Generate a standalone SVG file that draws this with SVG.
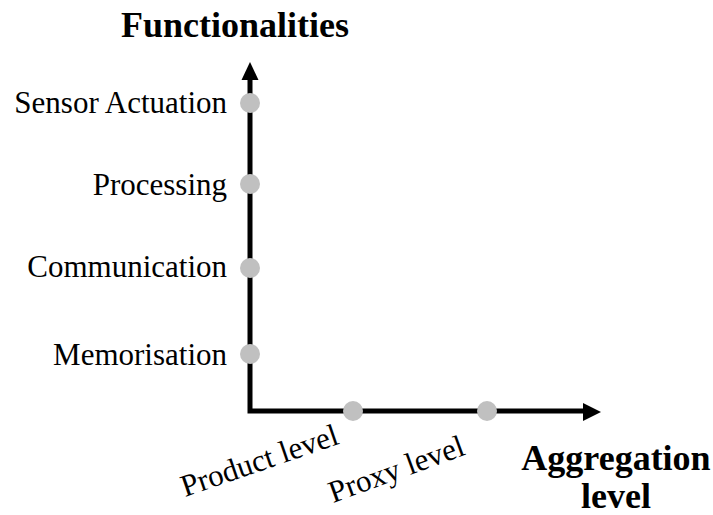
<svg xmlns="http://www.w3.org/2000/svg" width="713" height="515" viewBox="0 0 713 515">
  <style>
    .lbl { font-family: "Liberation Serif", "Times New Roman", serif; font-size: 31px; fill: #000; }
    .ttl { font-family: "Liberation Serif", "Times New Roman", serif; font-size: 36px; font-weight: bold; fill: #000; }
    .axis { stroke: #000; stroke-width: 5; fill: none; }
    .dot { fill: #c0c0c0; }
  </style>
  <rect width="713" height="515" fill="#fff"/>

  <!-- axes with arrowheads -->
  <g id="axes">
    <path class="axis" d="M250,79 V411 H584"/>
    <polygon points="250,62 241.5,80 258.5,80" fill="#000"/>
    <polygon points="601,412 583,403 583,421" fill="#000"/>
  </g>

  <g id="title-functionalities">
    <text class="ttl" x="235" y="37" text-anchor="middle">Functionalities</text>
  </g>
  <g id="title-aggregation">
    <text class="ttl" x="616" y="470" text-anchor="middle">Aggregation</text>
    <text class="ttl" x="616" y="508" text-anchor="middle">level</text>
  </g>

  <!-- functionality ticks on the vertical axis -->
  <g id="sensor-actuation">
    <circle class="dot" cx="250" cy="103" r="10"/>
    <text class="lbl" x="227" y="113" text-anchor="end">Sensor Actuation</text>
  </g>
  <g id="processing">
    <circle class="dot" cx="250" cy="184" r="10"/>
    <text class="lbl" x="227" y="195" text-anchor="end">Processing</text>
  </g>
  <g id="communication">
    <circle class="dot" cx="250" cy="268" r="10"/>
    <text class="lbl" x="227" y="277" text-anchor="end">Communication</text>
  </g>
  <g id="memorisation">
    <circle class="dot" cx="250" cy="354" r="10"/>
    <text class="lbl" x="227" y="365" text-anchor="end">Memorisation</text>
  </g>

  <!-- aggregation ticks on the horizontal axis -->
  <g id="product-level">
    <circle class="dot" cx="353" cy="411" r="10"/>
    <text class="lbl" transform="translate(185,497) rotate(-19)">Product level</text>
  </g>
  <g id="proxy-level">
    <circle class="dot" cx="487" cy="411" r="10"/>
    <text class="lbl" transform="translate(333,503) rotate(-20)">Proxy level</text>
  </g>
</svg>
